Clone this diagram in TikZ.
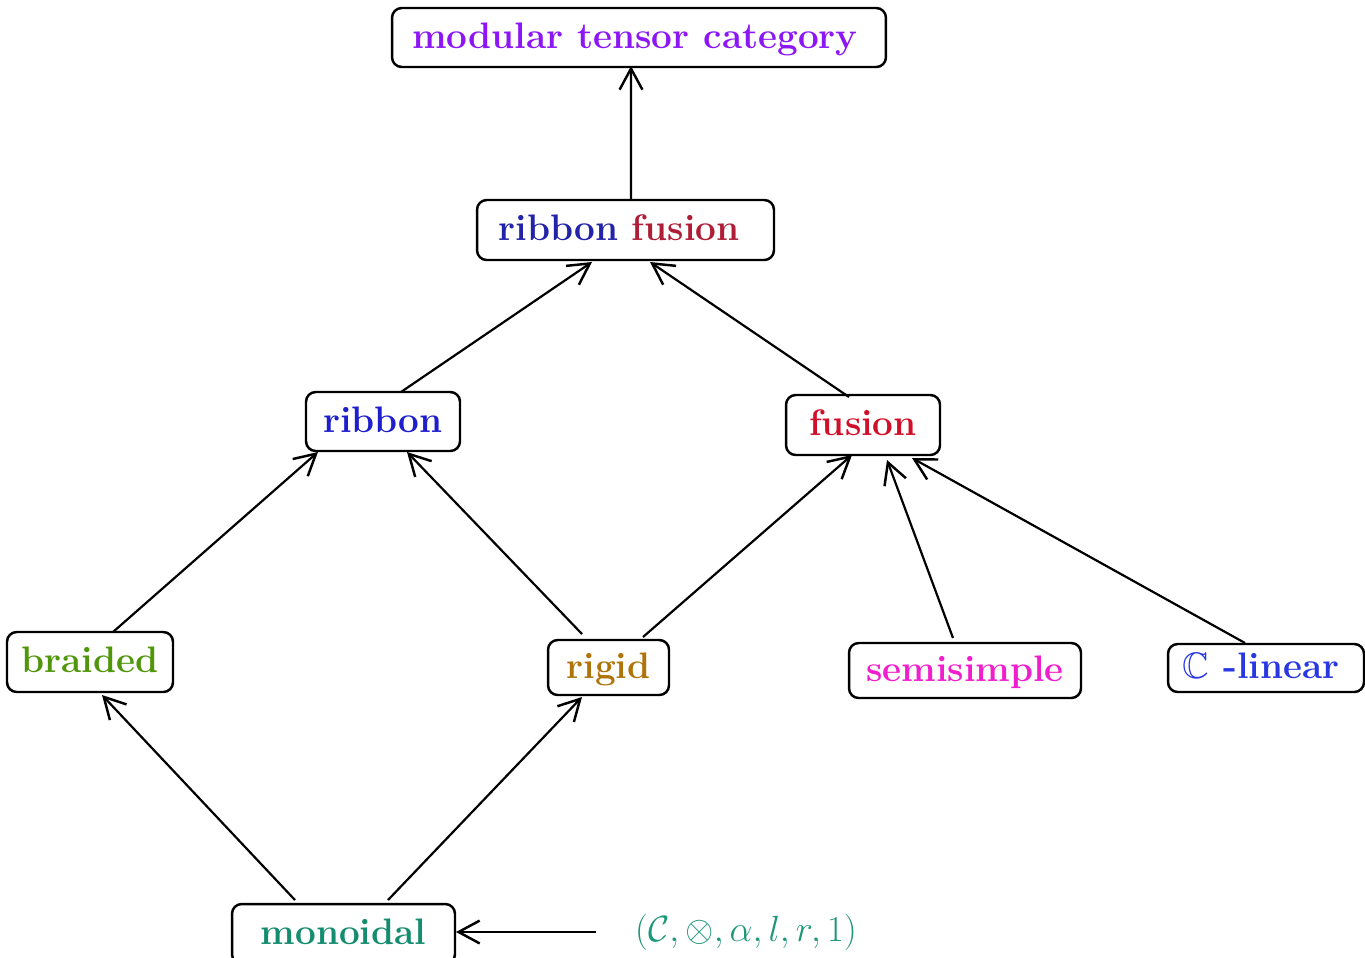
\documentclass[tikz,border=0pt]{standalone}
\usepackage{amssymb}
\usetikzlibrary{arrows.meta,calc}
\definecolor{cmtc}{RGB}{140,22,245}
\definecolor{cribA}{RGB}{35,35,170}
\definecolor{cfusA}{RGB}{175,30,55}
\definecolor{crib}{RGB}{30,30,205}
\definecolor{cfus}{RGB}{210,15,40}
\definecolor{cbraid}{RGB}{80,150,10}
\definecolor{crigid}{RGB}{175,115,10}
\definecolor{csemi}{RGB}{240,30,205}
\definecolor{clin}{RGB}{40,55,225}
\definecolor{cmon}{RGB}{20,140,110}
\definecolor{ctup}{RGB}{30,150,120}
\begin{document}
\begin{tikzpicture}[x=0.02cm,y=-0.02cm,
  catbox/.style={draw=black,line width=1.4pt,rounded corners=5.5pt,inner sep=0pt,
    font=\fontsize{21pt}{25pt}\selectfont\bfseries,text height=1.2em,text depth=0pt},
  arr/.style={line width=1.25pt,-{Straight Barb[length=12pt,width=13pt,line width=1.4pt]}}]
\useasboundingbox (0,0) rectangle (1365,957);
\node[catbox,minimum width=9.88cm,minimum height=1.18cm,text=cmtc] (mtc) at (639,37.5) {modular tensor category\kern0.16cm\null};
\node[catbox,minimum width=5.94cm,minimum height=1.2cm] (rf) at (625.5,230) {\textcolor{cribA}{ribbon} \textcolor{cfusA}{fusion}\kern0.26cm\null};
\node[catbox,minimum width=3.08cm,minimum height=1.18cm,text=crib] (ribbon) at (383,421.5) {ribbon};
\node[catbox,minimum width=3.08cm,minimum height=1.2cm,text=cfus] (fusion) at (863,425) {fusion};
\node[catbox,minimum width=3.32cm,minimum height=1.2cm,text=cbraid] (braided) at (90,662) {braided};
\node[catbox,minimum width=2.42cm,minimum height=1.1cm,text=crigid] (rigid) at (608.5,667.5) {rigid};
\node[catbox,minimum width=4.64cm,minimum height=1.1cm,text=csemi] (semi) at (965,670.5) {semisimple};
\node[catbox,minimum width=3.92cm,minimum height=0.96cm,text=clin] (clinear) at (1266,668) {$\mathbb{C}$ -linear\kern0.2cm\null};
\node[catbox,minimum width=4.46cm,minimum height=1.2cm,text=cmon] (mon) at (343.5,934) {monoidal};
\node[inner sep=0pt,text=ctup,font=\fontsize{21pt}{25pt}\selectfont] (tuple) at (746,932) {$(\mathcal{C},\otimes,\alpha,l,r,1)$};
\draw[arr] ($(rf)+(5.5,-30)$) -- ($(mtc)+(-8,28.5)$);
\draw[arr] ($(ribbon)+(18,-29.5)$) -- ($(rf)+(-33.5,32)$);
\draw[arr] ($(fusion)+(-14,-28)$) -- ($(rf)+(24.5,32)$);
\draw[arr] ($(braided)+(23,-30)$) -- ($(ribbon)+(-65,30.5)$);
\draw[arr] ($(rigid)+(-26.5,-33.5)$) -- ($(ribbon)+(24,30.5)$);
\draw[arr] ($(rigid)+(34.5,-30.5)$) -- ($(fusion)+(-11,30)$);
\draw[arr] ($(semi)+(-12,-32.5)$) -- ($(fusion)+(24,35)$);
\draw[arr] ($(clinear)+(-21,-25)$) -- ($(fusion)+(49,33)$);
\draw[arr] ($(mon)+(-48.5,-34)$) -- ($(braided)+(12,33)$);
\draw[arr] ($(mon)+(44.5,-34)$) -- ($(rigid)+(-26.5,29.5)$);
\draw[arr] ($(tuple)+(-150,0)$) -- ($(mon)+(112.5,-2)$);
\end{tikzpicture}
\end{document}
